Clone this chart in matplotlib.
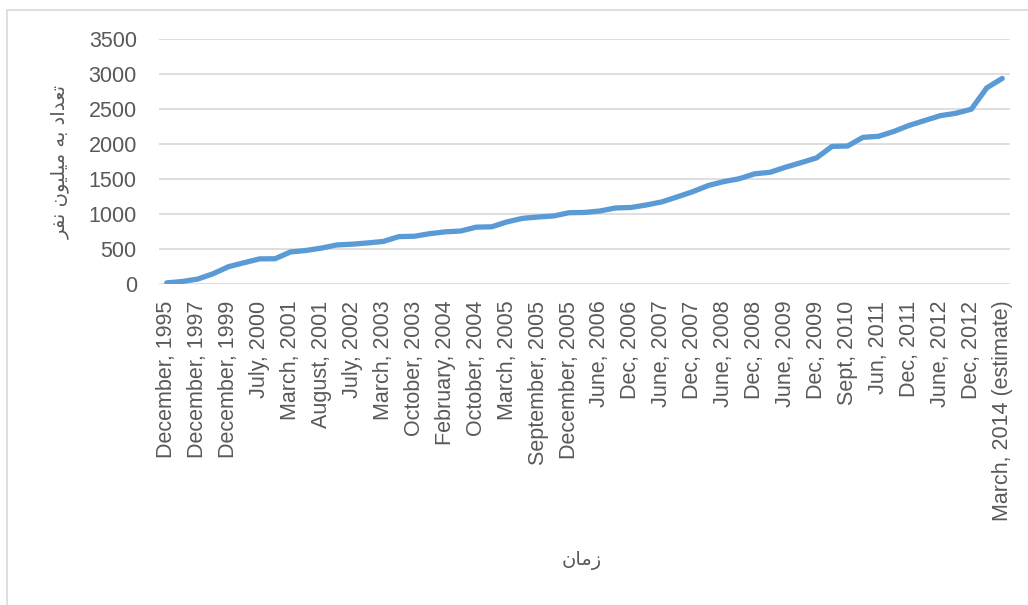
import matplotlib
matplotlib.use('Agg')
import matplotlib.pyplot as plt
from matplotlib.patches import Rectangle

plt.rcParams['font.family'] = ['Liberation Sans', 'DejaVu Sans']

# internet users, millions
dates = ['December, 1995', 'December, 1996', 'December, 1997', 'December, 1998',
         'December, 1999', 'March, 2000', 'July, 2000', 'December, 2000',
         'March, 2001', 'June, 2001', 'August, 2001', 'April, 2002',
         'July, 2002', 'September, 2002', 'March, 2003', 'September, 2003',
         'October, 2003', 'December, 2003', 'February, 2004', 'May, 2004',
         'October, 2004', 'December, 2004', 'March, 2005', 'June, 2005',
         'September, 2005', 'November, 2005', 'December, 2005', 'March, 2006',
         'June, 2006', 'Sept, 2006', 'Dec, 2006', 'Mar, 2007',
         'June, 2007', 'Sept, 2007', 'Dec, 2007', 'Mar, 2008',
         'June, 2008', 'Sept, 2008', 'Dec, 2008', 'Mar, 2009',
         'June, 2009', 'Sept, 2009', 'Dec, 2009', 'June, 2010',
         'Sept, 2010', 'Mar, 2011', 'Jun, 2011', 'Sept, 2011',
         'Dec, 2011', 'Mar, 2012', 'June, 2012', 'Sept, 2012',
         'Dec, 2012', 'Dec, 2013', 'March, 2014 (estimate)']
users = [16, 36, 70, 147, 248, 304, 359, 361, 458, 479, 513, 558, 569, 587,
         608, 677, 682, 719, 745, 757, 812, 817, 888, 938, 957, 972, 1018,
         1022, 1043, 1086, 1093, 1129, 1173, 1245, 1319, 1407, 1463, 1504,
         1574, 1596, 1669, 1734, 1802, 1966, 1971, 2095, 2110, 2180, 2267,
         2336, 2405, 2439, 2497, 2802, 2937]
y_ticks = [0, 500, 1000, 1500, 2000, 2500, 3000, 3500]

ylabel_fa = 'تعداد به میلیون نفر'
xlabel_fa = 'زمان'

# arabic letter forms: (isolated, final, initial, medial) or (isolated, final)
FORMS = {
    'ا': ('\uFE8D', '\uFE8E'),
    'ب': ('\uFE8F', '\uFE90', '\uFE91', '\uFE92'),
    'ت': ('\uFE95', '\uFE96', '\uFE97', '\uFE98'),
    'د': ('\uFEA9', '\uFEAA'),
    'ر': ('\uFEAD', '\uFEAE'),
    'ز': ('\uFEAF', '\uFEB0'),
    'ع': ('\uFEC9', '\uFECA', '\uFECB', '\uFECC'),
    'ف': ('\uFED1', '\uFED2', '\uFED3', '\uFED4'),
    'ل': ('\uFEDD', '\uFEDE', '\uFEDF', '\uFEE0'),
    'م': ('\uFEE1', '\uFEE2', '\uFEE3', '\uFEE4'),
    'ن': ('\uFEE5', '\uFEE6', '\uFEE7', '\uFEE8'),
    'ه': ('\uFEE9', '\uFEEA', '\uFEEB', '\uFEEC'),
    'و': ('\uFEED', '\uFEEE'),
    'ی': ('\uFBFC', '\uFBFD', '\uFBFE', '\uFBFF'),
}


def shape(text):
    out = []
    for i, ch in enumerate(text):
        if ch not in FORMS:
            out.append(ch)
            continue
        f = FORMS[ch]
        prev = text[i - 1] if i > 0 else ''
        nxt = text[i + 1] if i + 1 < len(text) else ''
        jp = prev in FORMS and len(FORMS[prev]) == 4
        jn = nxt in FORMS and len(f) == 4
        if jp and jn:
            out.append(f[3])
        elif jp:
            out.append(f[1])
        elif jn:
            out.append(f[2])
        else:
            out.append(f[0])
    return ''.join(reversed(out))


fig = plt.figure(figsize=(10.28, 6.05), dpi=100)
fig.patches.append(Rectangle((7 / 1028, -0.01), 1.0, 1 - 10 / 605 + 0.01,
                             transform=fig.transFigure, fill=False,
                             edgecolor='#D9D9D9', linewidth=1.2))
ax = fig.add_axes([159 / 1028, 1 - 284 / 605, (1010 - 159) / 1028, 245 / 605])

x = list(range(len(dates)))
ax.plot(x, users, color='#5B9BD5', linewidth=3.8, solid_capstyle='round',
        solid_joinstyle='round', zorder=3)

ax.set_xlim(-0.5, len(dates) - 0.5)
ax.set_ylim(0, 3500)
ax.set_yticks(y_ticks)
ax.set_xticks(x[::2])
ax.set_xticklabels(dates[::2], rotation=90)
ax.tick_params(axis='both', length=0, labelsize=15.5, labelcolor='#595959')
ax.tick_params(axis='y', pad=16)
ax.tick_params(axis='x', pad=12)
ax.grid(axis='y', color='#D9D9D9', linewidth=1.2)
ax.set_axisbelow(True)
for s in ax.spines.values():
    s.set_visible(False)

fig.text(60 / 1028, 1 - 162 / 605, shape(ylabel_fa), rotation=90,
         ha='center', va='center', fontsize=14, color='#595959',
         family='DejaVu Sans')
fig.text(582 / 1028, 1 - 560 / 605, shape(xlabel_fa), ha='center',
         va='center', fontsize=14, color='#595959', family='DejaVu Sans')

fig.savefig('out.png', dpi=100)
